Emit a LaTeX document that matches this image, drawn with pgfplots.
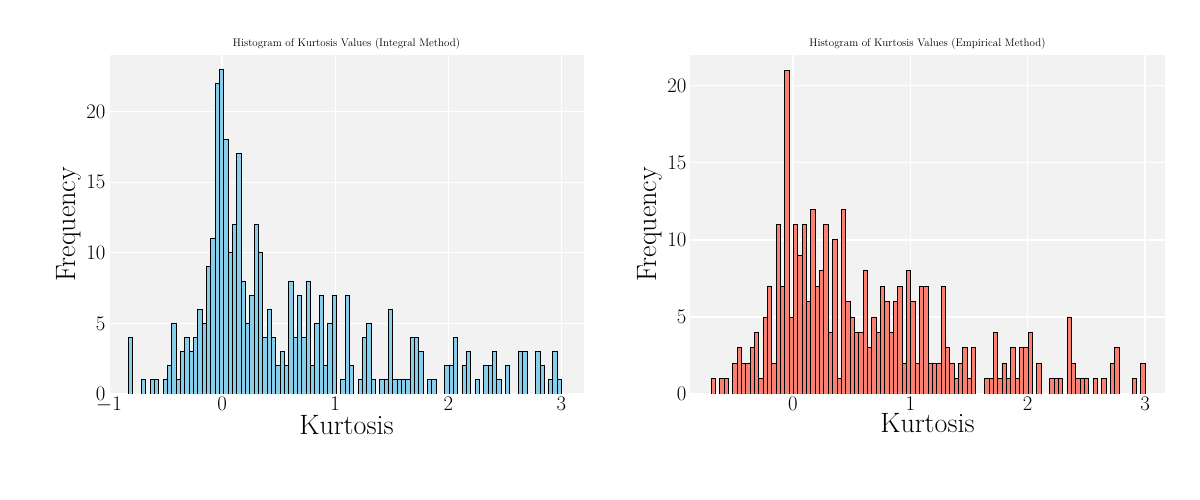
\documentclass[border=0pt]{standalone}
\usepackage{pgfplots}
\pgfplotsset{compat=1.18}
\usepackage{pgfplotstable}
\definecolor{skyb}{RGB}{135,206,235}
\definecolor{salm}{RGB}{250,128,114}
\definecolor{bg}{RGB}{242,242,242}
\pgfplotstableread{
k h
0 4
3 1
5 1
6 1
8 1
9 2
10 5
11 1
12 3
13 4
14 3
15 4
16 6
17 5
18 9
19 11
20 22
21 23
22 18
23 10
24 12
25 17
26 8
27 5
28 7
29 12
30 10
31 4
32 6
33 4
34 2
35 3
36 2
37 8
38 4
39 7
40 4
41 8
42 2
43 5
44 7
45 2
46 5
47 7
49 1
50 7
51 2
53 1
54 4
55 5
56 1
58 1
59 1
60 6
61 1
62 1
63 1
64 1
65 4
66 4
67 3
69 1
70 1
73 2
74 2
75 4
77 2
78 3
80 1
82 2
83 2
84 3
85 1
87 2
90 3
91 3
94 3
95 2
97 1
98 3
99 1
}\lefttab
\pgfplotstableread{
k h
0 1
2 1
3 1
5 2
6 3
7 2
8 2
9 3
10 4
11 1
12 5
13 7
14 2
15 11
16 7
17 21
18 5
19 11
20 9
21 11
22 6
23 12
24 7
25 8
26 11
27 4
28 10
29 1
30 12
31 6
32 5
33 4
34 4
35 8
36 3
37 5
38 4
39 7
40 6
41 4
42 6
43 7
44 2
45 8
46 6
47 2
48 7
49 7
50 2
51 2
52 2
53 7
54 3
55 2
56 1
57 2
58 3
59 1
60 3
63 1
64 1
65 4
66 1
67 2
68 1
69 3
70 1
71 3
72 3
73 4
75 2
78 1
79 1
80 1
82 5
83 2
84 1
85 1
86 1
88 1
90 1
92 2
93 3
97 1
99 2
}\righttab
\pgfplotsset{
  hstyle/.style={
    scale only axis, width=475pt, height=339pt,
    axis background/.style={fill=bg},
    axis line style={draw=none},
    major tick length=0pt,
    grid=major, grid style={white, line width=1.2pt},
    ymin=0,
    tick label style={font=\fontsize{20}{24}\selectfont},
    label style={font=\fontsize{28}{32}\selectfont},
    title style={font=\fontsize{11}{13}\selectfont, yshift=-4pt},
    xlabel={Kurtosis}, ylabel={Frequency},
    xlabel style={yshift=4pt},
    ylabel style={yshift=-2pt},
    axis on top=false,
  }
}
\begin{document}
\begin{tikzpicture}
\useasboundingbox (-109pt,-106pt) rectangle (1091pt,394pt);
\begin{axis}[hstyle, at={(0,0)}, anchor=south west,
  xmin=-1, xmax=3.2, ymax=24,
  xtick={-1,0,1,2,3}, ytick={0,5,10,15,20},
  title={Histogram of Kurtosis Values (Integral Method)}]
\addplot[ybar, bar width=0.0383, bar shift=0pt, fill=skyb, draw=black, line width=0.9pt]
  table[x expr={-0.828+0.0383*(\thisrow{k}+0.5)}, y=h] {\lefttab};
\end{axis}
\begin{axis}[hstyle, at={(581pt,0)}, anchor=south west,
  xmin=-0.877, xmax=3.17, ymax=22,
  xtick={0,1,2,3}, ytick={0,5,10,15,20},
  title={Histogram of Kurtosis Values (Empirical Method)}]
\addplot[ybar, bar width=0.037, bar shift=0pt, fill=salm, draw=black, line width=0.9pt]
  table[x expr={-0.698+0.037*(\thisrow{k}+0.5)}, y=h] {\righttab};
\end{axis}
\end{tikzpicture}
\end{document}
